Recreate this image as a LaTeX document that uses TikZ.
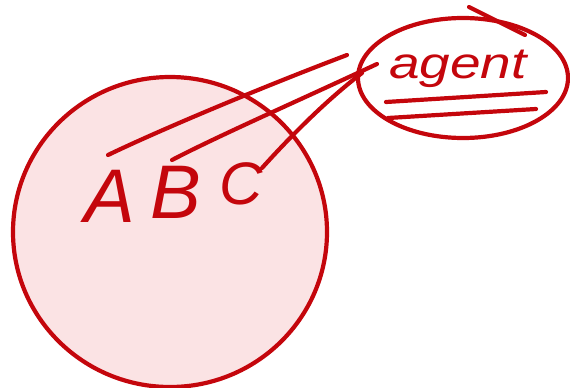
\documentclass[tikz,border=0pt]{standalone}
\usepackage{fontspec}
\setmainfont{Liberation Sans}
\usetikzlibrary{shapes.geometric}
\definecolor{inkred}{HTML}{C4060C}
\definecolor{setpink}{HTML}{FBE3E4}
\tikzset{
  ink/.style={draw=inkred, line width=4.2pt, line cap=round, line join=round},
  letter/.style={text=inkred, font=\itshape\fontsize{76}{76}\selectfont, inner sep=0pt, anchor=base},
}
\begin{document}
\begin{tikzpicture}[x=1pt,y=-1pt]
\useasboundingbox (0,0) rectangle (570,388);
% the set
\path[ink, fill=setpink] (170,232) ellipse [x radius=157, y radius=155];
% letters
\node[letter] (A) at (110,222) {A};
\node[letter] (B) at (176,218) {B};
\node[letter, font=\itshape\fontsize{60}{60}\selectfont] (C) at (241,204) {C};
% agent
\node[ellipse, ink, minimum width=210pt, minimum height=120pt, inner sep=0pt] (agentshape) at (463,78) {};
\node[text=inkred, font=\itshape\fontsize{44}{44}\selectfont, xscale=1.25, inner sep=0pt, anchor=base] (agent) at (458,78) {agent};
\coordinate (u1a) at (386,102);
\coordinate (u1b) at (546,92);
\coordinate (u2a) at (388,118);
\coordinate (u2b) at (536,109);
\draw[ink] (u1a) -- (u1b);
\draw[ink] (u2a) -- (u2b);
\coordinate (m1) at (469,7);
\coordinate (m2) at (525,35);
\draw[ink] (m1) -- (m2);
% connectors
\coordinate (Astart) at (108,155);
\coordinate (Aend) at (347,55);
\coordinate (Bstart) at (172,160);
\coordinate (Bend) at (377,64);
\coordinate (Cstart) at (262,168);
\coordinate (Cend) at (362,73);
\draw[ink] (Astart) .. controls (160,130) and (260,88) .. (Aend);
\draw[ink] (Bstart) .. controls (220,135) and (300,100) .. (Bend);
\draw[ink] (Cstart) .. controls (280,148) and (320,105) .. (Cend);
\end{tikzpicture}
\end{document}
